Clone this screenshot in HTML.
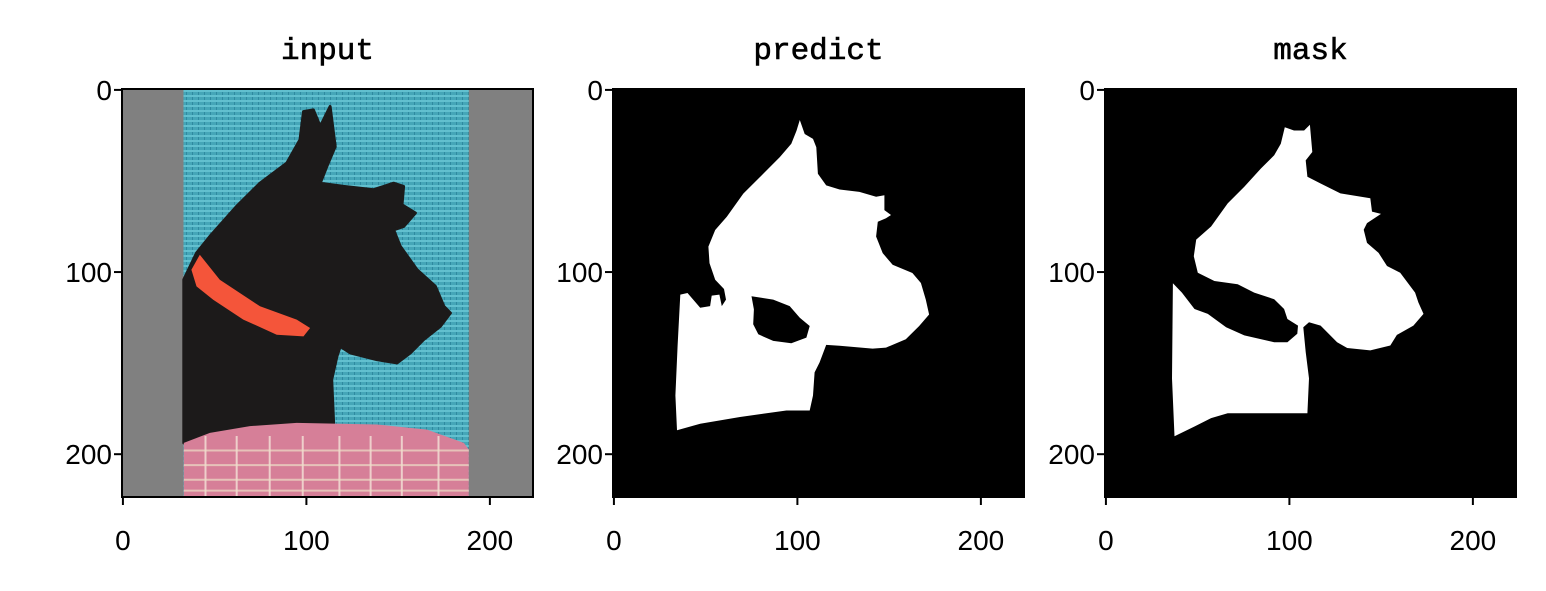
<!DOCTYPE html>
<html><head><meta charset="utf-8"><style>
html,body{margin:0;padding:0;background:#fff;}
svg{display:block;}
</style></head><body>
<svg id="fig" width="1546" height="591" viewBox="0 0 1546 591" xmlns="http://www.w3.org/2000/svg">
<defs>
<pattern id="weave" width="6" height="5" patternUnits="userSpaceOnUse">
<rect width="6" height="5" fill="#45a6b8"/>
<rect y="0" width="6" height="2" fill="#62c0cf"/>
<rect x="0" y="2" width="1" height="3" fill="#2f8aa0"/>
</pattern>
</defs>
</svg>
<script>
// ---- data (image pixel coordinates, 224x224 images) ----
const panelTitles = ["input", "predict", "mask"];
const xTicks = [0, 100, 200];
const yTicks = [0, 100, 200];
const imgSize = 224;
const photoSpan = [33, 188.5];
const dogOutline = [[33.2,104.2],[40.1,89.6],[47.4,80.4],[61.9,64],[74.7,51.2],[89.3,40.2],[96.5,27.4],[98.4,11.9],[103.8,11],[107.5,20.1],[112.9,9.1],[115.7,31.1],[111.1,42],[107.5,51.2],[120.2,53],[136.6,54.8],[147.5,51.2],[153,53],[152.1,63.1],[159.4,67.6],[153,75],[147.5,76.8],[151.2,85.9],[160.3,98.7],[170.3,107.9],[174.9,118.8],[178.5,122.5],[173,129.8],[163.9,137.1],[156.6,144.4],[149.4,149.9],[138.4,148.1],[123.9,144.4],[118.4,140.8],[116.6,146.3],[113.8,159],[114.8,182.8],[69.2,186.5],[33.2,193.8]];
const collarOutline = [[37.3,98.7],[41.9,90.5],[52.8,104.2],[74.7,118.8],[94.7,126.1],[102,130.7],[98.4,135.3],[83.8,134.4],[65.6,126.1],[49.2,115.2],[40.1,107.9]];
const plaidOutline = [[33.2,193.8],[47.4,188.3],[69.2,184.6],[94.7,182.8],[138.4,183.7],[165.8,186.5],[185.8,193.8],[188.5,197.4],[188.5,223.5],[33.2,223.5]];
const plaidVLines = [45, 62, 80, 98, 118, 135, 152, 172];
const plaidHLines = [198, 206, 214, 220];
const predictOutline = [[101.3,16.5],[104,24.2],[108.5,26.9],[110.3,31.5],[111.2,46],[115.7,52.4],[123,54.7],[133.8,56],[142.9,58.7],[147.4,57.8],[147.4,66],[151,68.7],[148.3,70.5],[143.8,72.4],[142.9,80.5],[146.5,89.6],[151.9,96],[162.7,100.5],[167.3,106],[170,115.1],[171.8,123.3],[166.4,129.6],[159.1,136.9],[148.3,141.5],[141,142],[123,140.5],[115.7,140],[112.1,149.6],[109.4,155.1],[108.5,167.8],[106.7,176],[94,176],[68.7,179.6],[47,183.3],[34.4,186.9],[33.5,167.8],[34.7,140.5],[36.2,112.4],[40.1,111.5],[47,119.6],[52.4,118.7],[53.3,112.9],[57.5,112.4],[58.8,118.7],[61.1,115.1],[60,109.3],[55.2,104.2],[52.1,95.1],[51.5,86],[55.2,76.9],[61.5,69.6],[70.5,56.9],[79.6,47.8],[90.4,36.9],[96.7,29.6],[99.5,22.4]];
const predictHole = [[75,113.3],[86.8,115.1],[95.8,118.7],[101.3,125.1],[106.7,129.6],[104.9,136],[96.7,139.1],[86.8,137.8],[78.7,134.2],[75.9,128.7],[76.3,120.5]];
const maskOutline = [[97.5,20.5],[102.5,22.3],[108,22.3],[111.2,19.1],[112.5,34.1],[108.9,38.7],[109.8,47.7],[117,51.4],[127.8,56.8],[144.1,59.5],[145,66.8],[149.9,68.1],[142.3,73.1],[140.5,76.8],[142.3,84],[148.6,89.5],[153.2,96.7],[160.4,100.4],[168.5,111.3],[170.3,116.7],[173.1,123],[167.6,129.4],[158.6,134.5],[155,140.3],[144.1,143],[131.5,141.7],[126,138.5],[117,129.4],[110.7,127.6],[107.6,130.3],[108.9,143.9],[110.7,158.4],[109.8,177.5],[97.1,177.5],[66.4,177.5],[57.3,180.2],[48.3,184.8],[37.4,190.2],[36,158.4],[36.5,106.2],[41.4,111.3],[48.3,120.3],[55.5,123],[65.5,130.3],[75.4,134.8],[91.7,138.5],[98.9,138.5],[104.3,133.9],[104.7,129.4],[98.9,125.8],[97.1,120.3],[91.7,114.9],[80.8,111.3],[71.8,106.7],[59.1,104.9],[50.1,100.4],[47.9,91.3],[49.2,82.2],[57.3,75],[66.4,62.3],[75.4,53.2],[84.4,43.2],[91.7,35.9],[95.3,29.6]];

// ---- layout ----
const NS = "http://www.w3.org/2000/svg";
const svg = document.getElementById("fig");
const panelLeft = [122, 613, 1105];
const panelW = 411, panelTop = 89, panelH = 408;

function mk(tag, attrs, parent) {
  const e = document.createElementNS(NS, tag);
  for (const k in attrs) e.setAttribute(k, attrs[k]);
  (parent || svg).appendChild(e);
  return e;
}
function sx(p, u) { return panelLeft[p] + (u + 0.5) * panelW / imgSize; }
function sy(v) { return panelTop + (v + 0.5) * panelH / imgSize; }
function pts(p, arr) { return arr.map(d => sx(p, d[0]).toFixed(1) + "," + sy(d[1]).toFixed(1)).join(" "); }
function pathOf(p, arr) { return "M" + arr.map(d => sx(p, d[0]).toFixed(1) + " " + sy(d[1]).toFixed(1)).join("L") + "Z"; }

const labels = [];
for (let p = 0; p < 3; p++) {
  const g = mk("g", {});
  
  
  const x0 = panelLeft[p];
  if (p === 0) {
    const bg = mk("rect", {x: x0, y: panelTop, width: panelW, height: panelH, fill: "#808080"}, g);
    
    
    const ph = mk("rect", {x: sx(0, photoSpan[0]), y: panelTop, width: sx(0, photoSpan[1]) - sx(0, photoSpan[0]), height: panelH, fill: "url(#weave)"}, g);
    
    
    const dog = mk("polygon", {points: pts(0, dogOutline), fill: "#1c1a1a", stroke: "#1c1a1a", "stroke-width": 3, "stroke-linejoin": "round"}, g);
    
    
    const col = mk("polygon", {points: pts(0, collarOutline), fill: "#f4553a"}, g);
    
    
    const pl = mk("polygon", {points: pts(0, plaidOutline), fill: "#d67f98"}, g);
    
    
    plaidVLines.forEach(u => {
      const l = mk("line", {x1: sx(0, u), x2: sx(0, u), y1: sy(190), y2: sy(223.5), stroke: "#f4e4d8", "stroke-width": 2, opacity: 0.8}, g);
      
      
    });
    plaidHLines.forEach(v => {
      const l = mk("line", {x1: sx(0, 33.2), x2: sx(0, 188.5), y1: sy(v), y2: sy(v), stroke: "#eedfc8", "stroke-width": 2, opacity: 0.7}, g);
      
      
    });
  } else {
    const bg = mk("rect", {x: x0, y: panelTop, width: panelW, height: panelH, fill: "#000"}, g);
    
    
    let d = p === 1 ? pathOf(1, predictOutline) + pathOf(1, predictHole) : pathOf(2, maskOutline);
    const m = mk("path", {d: d, fill: "#fff", "fill-rule": "evenodd"}, g);
    
    
  }
  const fr = mk("rect", {x: x0, y: panelTop, width: panelW, height: panelH, fill: "none", stroke: "#000", "stroke-width": 2}, g);
  
  
  const t = mk("text", {x: x0 + panelW / 2, y: 59, "text-anchor": "middle", "font-family": "Liberation Mono, monospace", "font-size": 31, "stroke": "#000", "stroke-width": 0.6}, g);
  t.textContent = panelTitles[p];
  
  
  xTicks.forEach(v => {
    const x = sx(p, v);
    const tk = mk("line", {x1: x, x2: x, y1: panelTop + panelH, y2: panelTop + panelH + 8, stroke: "#000", "stroke-width": 2}, g);
    
    
    labels.push({x: x, y: 550, a: "middle", s: String(v), n: 'x-tick-label'});
  });
  yTicks.forEach(v => {
    const y = sy(v);
    const tk = mk("line", {x1: x0 - 8, x2: x0, y1: y, y2: y, stroke: "#000", "stroke-width": 2}, g);
    
    
    labels.push({x: x0 - 10, y: y + 10, a: "end", s: String(v), n: 'y-tick-label'});
  });
}
labels.forEach(L => {
  const e = mk("text", {x: L.x, y: L.y, "text-anchor": L.a, "font-family": "Liberation Sans, sans-serif", "font-size": 28});
  e.textContent = L.s;
  
  
});
</script>
</body></html>
